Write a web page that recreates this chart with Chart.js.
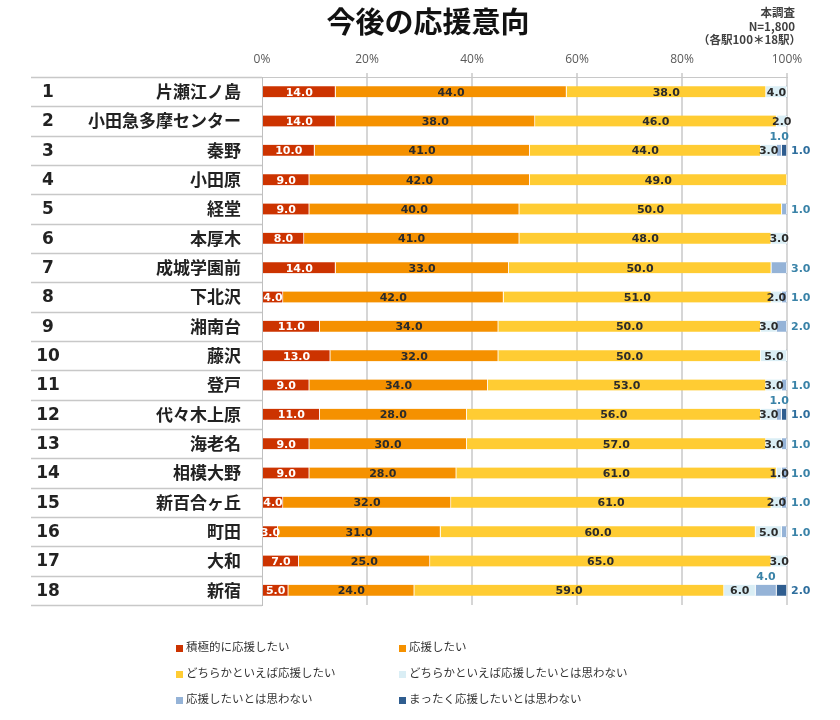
<!DOCTYPE html>
<html>
<head>
<meta charset="utf-8">
<script src="https://cdn.jsdelivr.net/npm/chart.js@4"></script>
<style>
  body { margin: 0; background: #fff; }
  #wrap { width: 840px; height: 720px; }
</style>
</head>
<body>
<div id="wrap"><canvas id="chart" width="840" height="720"></canvas></div>
<script>
// stations, top to bottom
const stations = ['片瀬江ノ島', '小田急多摩センター', '秦野', '小田原', '経堂', '本厚木', '成城学園前', '下北沢', '湘南台',
    '藤沢', '登戸', '代々木上原', '海老名', '相模大野', '新百合ヶ丘', '町田', '大和', '新宿'];

// answers (%)
const strongSupport = [14, 14, 10, 9, 9, 8, 14, 4, 11, 13, 9, 11, 9, 9, 4, 3, 7, 5];
const support = [44, 38, 41, 42, 40, 41, 33, 42, 34, 32, 34, 28, 30, 28, 32, 31, 25, 24];
const leanSupport = [38, 46, 44, 49, 50, 48, 50, 51, 50, 50, 53, 56, 57, 61, 61, 60, 65, 59];
const leanNot = [4, 2, 3, 0, 0, 3, 0, 2, 3, 5, 3, 3, 3, 1, 2, 5, 3, 6];
const notSupport = [0, 0, 1, 0, 1, 0, 3, 1, 2, 0, 1, 1, 1, 1, 1, 1, 0, 4];
const notAtAll = [0, 0, 1, 0, 0, 0, 0, 0, 0, 0, 0, 1, 0, 0, 0, 0, 0, 2];

const seriesNames = ['積極的に応援したい', '応援したい', 'どちらかといえば応援したい',
    'どちらかといえば応援したいとは思わない', '応援したいとは思わない', 'まったく応援したいとは思わない'];
const seriesColors = ['#CC3300', '#F59100', '#FFCC33', '#DAEEF5', '#95B3D7', '#2F5D8F'];
const xTicks = [0, 20, 40, 60, 80, 100];

const jp = '"Noto Sans CJK JP", "Noto Sans", sans-serif';
const num = '"DejaVu Sans", Verdana, sans-serif';

const allSeries = [strongSupport, support, leanSupport, leanNot, notSupport, notAtAll];

// title, note, row numbers, row lines, legend
const decorations = {
    id: 'decorations',
    afterDraw(chart) {
        const ctx = chart.ctx;
        const y = chart.scales.y;
        const area = chart.chartArea;
        ctx.save();

        ctx.fillStyle = '#111';
        ctx.font = 'bold 29px ' + jp;
        ctx.textAlign = 'center';
        ctx.textBaseline = 'middle';
        ctx.fillText('今後の応援意向', 428, 22);

        ctx.fillStyle = '#404040';
        ctx.font = 'bold 11.5px ' + jp;
        ctx.textAlign = 'right';
        ctx.fillText('本調査', 795, 13);
        ctx.fillText('N=1,800', 795, 27);
        ctx.fillText('（各駅100＊18駅）', 801, 40);

        // row separators in the label column
        const step = y.getPixelForValue(1) - y.getPixelForValue(0);
        ctx.strokeStyle = '#c8c8c8';
        ctx.lineWidth = 1.5;
        for (let i = 0; i <= stations.length; i++) {
            const py = Math.round(y.getPixelForValue(i) - step / 2) + 0.5;
            ctx.beginPath();
            ctx.moveTo(31, py);
            ctx.lineTo(area.left, py);
            ctx.stroke();
        }

        ctx.fillStyle = '#222';
        ctx.font = 'bold 17px ' + num;
        ctx.textAlign = 'center';
        stations.forEach((s, i) => {
            ctx.fillText(String(i + 1), 48, y.getPixelForValue(i) + 1);
        });

        // legend, two columns
        ctx.font = '11.5px ' + jp;
        ctx.textAlign = 'left';
        seriesNames.forEach((name, i) => {
            const col = i % 2, row = Math.floor(i / 2);
            const lx = col === 0 ? 176 : 399;
            const ly = 647 + row * 26;
            ctx.fillStyle = seriesColors[i];
            ctx.fillRect(lx, ly - 2, 7, 7);
            ctx.fillStyle = '#333';
            ctx.fillText(name, lx + 10, ly);
        });
        ctx.restore();
    }
};

// value labels on the bar segments
const barLabels = {
    id: 'barLabels',
    afterDatasetsDraw(chart) {
        const ctx = chart.ctx;
        const area = chart.chartArea;
        ctx.save();
        ctx.font = 'bold 11px ' + num;
        ctx.textBaseline = 'middle';
        chart.data.datasets.forEach((ds, i) => {
            const meta = chart.getDatasetMeta(i);
            meta.data.forEach((el, j) => {
                const v = allSeries[i][j];
                if (!v) return;
                const cx = (el.x + el.base) / 2;
                const txt = v.toFixed(1);
                if (i <= 3) {
                    ctx.save();
                    ctx.beginPath();
                    ctx.rect(area.left, area.top, area.right - area.left + 20, area.bottom - area.top);
                    ctx.clip();
                    ctx.fillStyle = i === 0 ? '#fff' : '#2b2b2b';
                    ctx.textAlign = 'center';
                    ctx.fillText(txt, cx, el.y + 1);
                    ctx.restore();
                } else if (i === 4 && notAtAll[j] > 0) {
                    ctx.fillStyle = '#3a83a8';
                    ctx.textAlign = 'center';
                    ctx.fillText(txt, cx, el.y - 13);
                } else {
                    ctx.fillStyle = i === 5 ? '#2f6f9e' : '#3a83a8';
                    ctx.textAlign = 'left';
                    ctx.fillText(txt, area.right + 4, el.y + 1);
                }
            });
        });
        ctx.restore();
    }
};

new Chart(document.getElementById('chart'), {
    type: 'bar',
    data: {
        labels: stations,
        datasets: allSeries.map((d, i) => ({
            label: seriesNames[i],
            data: d,
            backgroundColor: seriesColors[i],
            borderColor: '#ffffff',
            borderWidth: {left: 0, right: 1, top: 0, bottom: 0},
            borderSkipped: false,
            barThickness: 11
        }))
    },
    options: {
        indexAxis: 'y',
        responsive: false,
        animation: false,
        layout: {padding: {left: 32, right: 53, top: 0, bottom: 115}},
        plugins: {
            legend: {display: false},
            tooltip: {enabled: false},
            title: {display: false}
        },
        scales: {
            x: {
                position: 'top',
                stacked: true,
                min: 0,
                max: 100,
                afterFit: (scale) => { scale.height = 77; },
                afterBuildTicks: (scale) => { scale.ticks = xTicks.map(v => ({value: v})); },
                ticks: {
                    callback: (v) => v + '%',
                    color: '#595959',
                    font: {family: '"Open Sans", sans-serif', size: 12},
                    padding: 6,
                    maxRotation: 0
                },
                grid: {
                    color: (c) => c.tick && c.tick.value === 0 ? 'rgba(0,0,0,0)' : '#d6d6d6',
                    lineWidth: 2,
                    tickLength: 4
                },
                border: {display: true, color: '#c8c8c8', width: 1}
            },
            y: {
                stacked: true,
                afterFit: (scale) => { scale.width = 230; },
                ticks: {
                    color: '#222',
                    font: {family: jp, size: 17, weight: 'bold'},
                    padding: 13,
                    autoSkip: false
                },
                grid: {display: false},
                border: {display: true, color: '#bfbfbf', width: 1}
            }
        }
    },
    plugins: [decorations, barLabels]
});
</script>
</body>
</html>
